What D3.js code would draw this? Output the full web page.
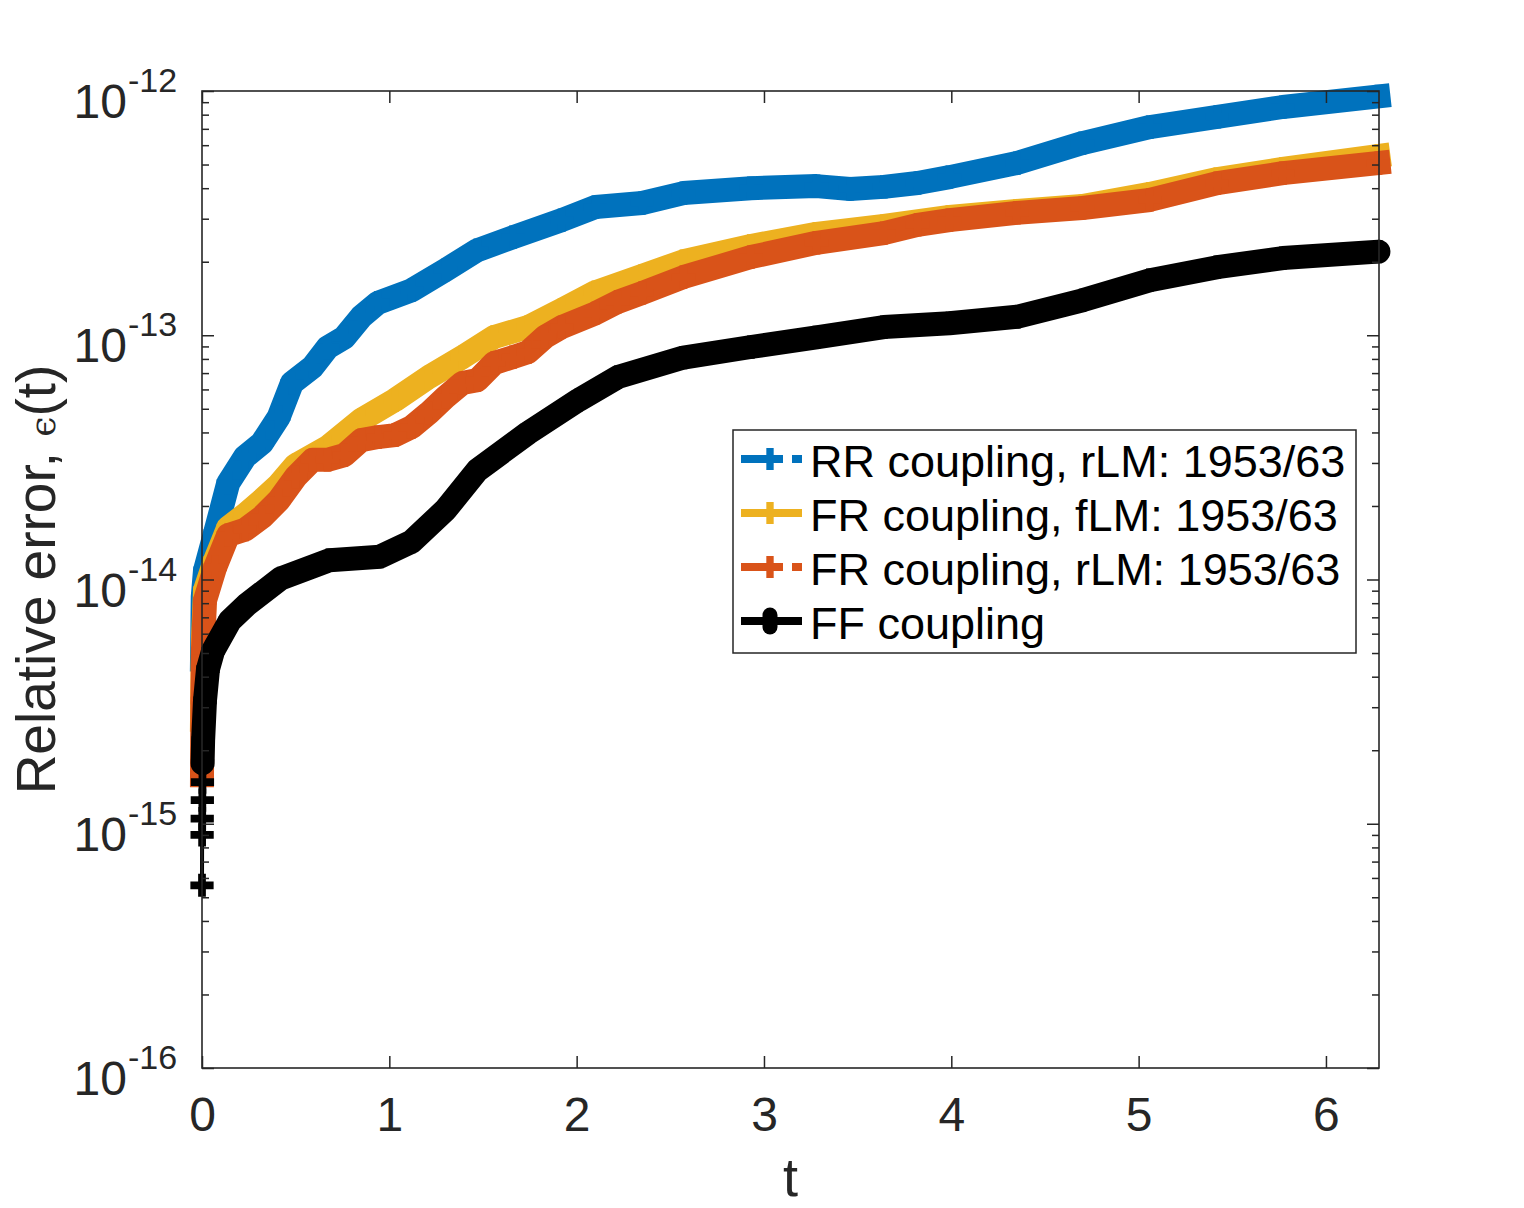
<!DOCTYPE html>
<html>
<head>
<meta charset="utf-8">
<script src="https://cdn.jsdelivr.net/npm/d3@7/dist/d3.min.js"></script>
<style>
  body { margin: 0; background: #fff; }
  text { font-family: "Liberation Sans", Arial, Helvetica, sans-serif; }
</style>
</head>
<body>
<div id="chart"></div>
<script>
// values (t, relative error)
const tRR = [0, 0.004, 0.016, 0.07, 0.14, 0.23, 0.32, 0.41, 0.48, 0.59, 0.67, 0.76, 0.85, 0.94, 1.12, 1.30, 1.47, 1.66, 1.92, 2.10, 2.35, 2.57, 2.93, 3.28, 3.46, 3.64, 3.82, 3.99, 4.35, 4.70, 5.06, 5.42, 5.77, 6.28];
const vRR = [4.7e-15, 8.5e-15, 1.09e-14, 1.55e-14, 2.48e-14, 3.18e-14, 3.62e-14, 4.63e-14, 6.37e-14, 7.41e-14, 8.9e-14, 9.8e-14, 1.19e-13, 1.36e-13, 1.53e-13, 1.85e-13, 2.23e-13, 2.52e-13, 2.96e-13, 3.35e-13, 3.48e-13, 3.82e-13, 4.0e-13, 4.08e-13, 3.97e-13, 4.05e-13, 4.2e-13, 4.44e-13, 5.07e-13, 6.12e-13, 7.12e-13, 7.83e-13, 8.6e-13, 9.5e-13];

const tFRf = [0, 0.005, 0.016, 0.07, 0.14, 0.23, 0.32, 0.41, 0.50, 0.67, 0.85, 1.03, 1.21, 1.39, 1.56, 1.74, 1.92, 2.10, 2.35, 2.57, 2.93, 3.28, 3.64, 3.99, 4.35, 4.70, 5.06, 5.42, 5.77, 6.28];
const vFRf = [2.66e-15, 5.65e-15, 9.05e-15, 1.2e-14, 1.63e-14, 1.84e-14, 2.11e-14, 2.44e-14, 2.94e-14, 3.48e-14, 4.5e-14, 5.43e-14, 6.74e-14, 8.14e-14, 9.84e-14, 1.08e-13, 1.27e-13, 1.5e-13, 1.75e-13, 2.01e-13, 2.32e-13, 2.6e-13, 2.8e-13, 3.05e-13, 3.23e-13, 3.38e-13, 3.79e-13, 4.36e-13, 4.8e-13, 5.42e-13];

const tFRr = [0, 0.002, 0.005, 0.016, 0.07, 0.14, 0.23, 0.32, 0.41, 0.50, 0.59, 0.67, 0.76, 0.85, 0.94, 1.03, 1.12, 1.21, 1.30, 1.39, 1.47, 1.56, 1.66, 1.74, 1.83, 1.92, 2.10, 2.22, 2.35, 2.57, 2.93, 3.28, 3.64, 3.82, 3.99, 4.35, 4.70, 5.06, 5.42, 5.77, 6.28];
const vFRr = [1.58e-15, 3.2e-15, 5.1e-15, 8.2e-15, 1.12e-14, 1.52e-14, 1.6e-14, 1.8e-14, 2.11e-14, 2.63e-14, 3.09e-14, 3.09e-14, 3.23e-14, 3.72e-14, 3.83e-14, 3.9e-14, 4.21e-14, 4.8e-14, 5.58e-14, 6.37e-14, 6.55e-14, 7.7e-14, 8.14e-14, 8.53e-14, 9.84e-14, 1.08e-13, 1.23e-13, 1.37e-13, 1.49e-13, 1.73e-13, 2.09e-13, 2.39e-13, 2.62e-13, 2.83e-13, 2.96e-13, 3.17e-13, 3.32e-13, 3.58e-13, 4.2e-13, 4.61e-13, 5.07e-13];

// FF: a few sparse samples at the very start, then the dense part
const tFFhead = [0, 0.0006, 0.0012, 0.0018, 0.0024];
const vFFhead = [5.6e-16, 9.0e-16, 1.05e-15, 1.25e-15, 1.48e-15];
const tFF = [0.003, 0.006, 0.016, 0.032, 0.059, 0.15, 0.24, 0.42, 0.68, 0.95, 1.12, 1.30, 1.47, 1.74, 2.01, 2.22, 2.57, 2.93, 3.28, 3.64, 3.99, 4.35, 4.70, 5.06, 5.42, 5.77, 6.28];
const vFF = [1.77e-15, 2.2e-15, 3.2e-15, 4.3e-15, 5.1e-15, 6.8e-15, 7.9e-15, 1.01e-14, 1.2e-14, 1.24e-14, 1.43e-14, 1.93e-14, 2.8e-14, 3.98e-14, 5.43e-14, 6.74e-14, 8.1e-14, 8.95e-14, 9.8e-14, 1.08e-13, 1.12e-13, 1.19e-13, 1.39e-13, 1.68e-13, 1.90e-13, 2.07e-13, 2.2e-13];

const xTicks = [0, 1, 2, 3, 4, 5, 6];
const yDecades = [-16, -15, -14, -13, -12];
const legendLabels = ["RR coupling, rLM: 1953/63", "FR coupling, fLM: 1953/63", "FR coupling, rLM: 1953/63", "FF coupling"];

const zip = (ts, vs) => ts.map((t, i) => ({ t: t, v: vs[i] }));

const series = [
  { name: legendLabels[0], color: "#0072BD", cap: "square", dash: true, values: zip(tRR, vRR) },
  { name: legendLabels[1], color: "#EDB120", cap: "square", dash: false, values: zip(tFRf, vFRf) },
  { name: legendLabels[2], color: "#D95319", cap: "square", dash: true, values: zip(tFRr, vFRr) },
  { name: legendLabels[3], color: "#000000", cap: "round", dash: false, dot: true, head: zip(tFFhead, vFFhead), values: zip(tFF, vFF) }
];

const width = 1524, height = 1208;
const plot = { left: 202, right: 1379, top: 91, bottom: 1068 };
const axisColor = "#262626";

const x = d3.scaleLinear().domain([0, 2 * Math.PI]).range([plot.left, plot.right]);
const y = d3.scaleLog().domain([1e-16, 1e-12]).range([plot.bottom, plot.top]);

const svg = d3.select("#chart").append("svg")
  .attr("width", width)
  .attr("height", height);

const line = d3.line()
  .x(d => x(d.t))
  .y(d => y(d.v));

const cross = d3.symbol(d3.symbolCross, 300);

// lines: thin line + dense '+' markers in the original, drawn here as a wide band
series.forEach(s => {
  const g = svg.append("g").attr("class", "series");
  if (s.head) {
    g.append("path")
      .attr("d", line(s.head.concat([s.values[0]])))
      .attr("fill", "none")
      .attr("stroke", s.color)
      .attr("stroke-width", 4);
    g.selectAll("path.head")
      .data(s.head)
      .join("path")
      .attr("class", "head")
      .attr("d", cross)
      .attr("transform", d => `translate(${x(d.t)},${y(d.v)})`)
      .attr("fill", s.color);
  }
  g.append("path")
    .attr("d", line(s.values))
    .attr("fill", "none")
    .attr("stroke", s.color)
    .attr("stroke-width", 24)
    .attr("stroke-linecap", s.cap)
    .attr("stroke-linejoin", "round");
  g.selectAll("path.mark")
    .data(s.values)
    .join("path")
    .attr("class", "mark")
    .attr("d", cross)
    .attr("transform", d => `translate(${x(d.t)},${y(d.v)})`)
    .attr("fill", s.color);
});

// axes (MATLAB style box, ticks pointing inward)
const minorTicks = [];
yDecades.slice(0, -1).forEach(e => {
  for (let k = 2; k <= 9; k++) minorTicks.push(k * Math.pow(10, e));
});
const majorTicks = yDecades.map(e => Math.pow(10, e));

const styleAxis = g => {
  g.select(".domain").remove();
  g.selectAll(".tick line").attr("stroke", axisColor).attr("stroke-width", 1.5);
};

svg.append("g")
  .attr("transform", `translate(0,${plot.bottom})`)
  .call(d3.axisBottom(x).tickValues(xTicks).tickSize(-12).tickPadding(29).tickFormat(d3.format("d")))
  .call(styleAxis)
  .call(g => g.selectAll(".tick text")
    .attr("fill", axisColor)
    .style("font-size", "48px")
    .style("font-family", "Liberation Sans, Arial, sans-serif"));

svg.append("g")
  .attr("transform", `translate(0,${plot.top})`)
  .call(d3.axisTop(x).tickValues(xTicks).tickSize(-12).tickFormat(""))
  .call(styleAxis);

[[plot.left, d3.axisLeft], [plot.right, d3.axisRight]].forEach(([px, axisFn]) => {
  svg.append("g")
    .attr("transform", `translate(${px},0)`)
    .call(axisFn(y).tickValues(majorTicks).tickSize(-12).tickFormat(""))
    .call(styleAxis);
  svg.append("g")
    .attr("transform", `translate(${px},0)`)
    .call(axisFn(y).tickValues(minorTicks).tickSize(-7).tickFormat(""))
    .call(styleAxis);
});

// y tick labels 10^e
const yLab = svg.append("g").attr("fill", axisColor);
yDecades.forEach(e => {
  const ty = y(Math.pow(10, e));
  yLab.append("text")
    .attr("x", 127)
    .attr("y", ty + 27)
    .attr("text-anchor", "end")
    .style("font-size", "48px")
    .text("10");
  yLab.append("text")
    .attr("x", 128)
    .attr("y", ty + 1)
    .attr("text-anchor", "start")
    .style("font-size", "34px")
    .text("-" + Math.abs(e));
});

// box
svg.append("rect")
  .attr("x", plot.left)
  .attr("y", plot.top)
  .attr("width", plot.right - plot.left)
  .attr("height", plot.bottom - plot.top)
  .attr("fill", "none")
  .attr("stroke", axisColor)
  .attr("stroke-width", 1.6);

// axis titles
svg.append("text")
  .attr("x", (plot.left + plot.right) / 2)
  .attr("y", 1196)
  .attr("text-anchor", "middle")
  .attr("fill", axisColor)
  .style("font-size", "54px")
  .text("t");

const yTitle = svg.append("text")
  .attr("transform", `translate(55,${(plot.top + plot.bottom) / 2}) rotate(-90)`)
  .attr("text-anchor", "middle")
  .attr("fill", axisColor)
  .style("font-size", "55px");
yTitle.append("tspan").text("Relative error, ");
yTitle.append("tspan")
  .style("font-family", "DejaVu Serif, serif")
  .style("font-size", "36px")
  .text("ϵ");
yTitle.append("tspan").text("(t)");

// legend
const legend = svg.append("g").attr("class", "legend");
const lg = { x: 733, y: 430, w: 623, h: 223, row: 54, first: 459 };
legend.append("rect")
  .attr("x", lg.x)
  .attr("y", lg.y)
  .attr("width", lg.w)
  .attr("height", lg.h)
  .attr("fill", "#fff")
  .attr("stroke", axisColor)
  .attr("stroke-width", 1.5);

series.forEach((s, i) => {
  const cy = lg.first + i * lg.row;
  const row = legend.append("g");
  row.append("line")
    .attr("x1", 741).attr("x2", 802)
    .attr("y1", cy).attr("y2", cy)
    .attr("stroke", s.color)
    .attr("stroke-width", 8)
    .attr("stroke-dasharray", s.dash ? "42,9" : null);
  if (s.dot) {
    row.append("line")
      .attr("x1", 770).attr("x2", 770)
      .attr("y1", cy - 6).attr("y2", cy + 6)
      .attr("stroke", s.color)
      .attr("stroke-width", 15)
      .attr("stroke-linecap", "round");
  } else {
    row.append("path")
      .attr("d", d3.symbol(d3.symbolCross, 270))
      .attr("transform", `translate(770,${cy})`)
      .attr("fill", s.color);
  }
  row.append("text")
    .attr("x", 810)
    .attr("y", cy + 18)
    .attr("fill", "#000")
    .style("font-size", "45px")
    .text(s.name);
});
</script>
</body>
</html>
